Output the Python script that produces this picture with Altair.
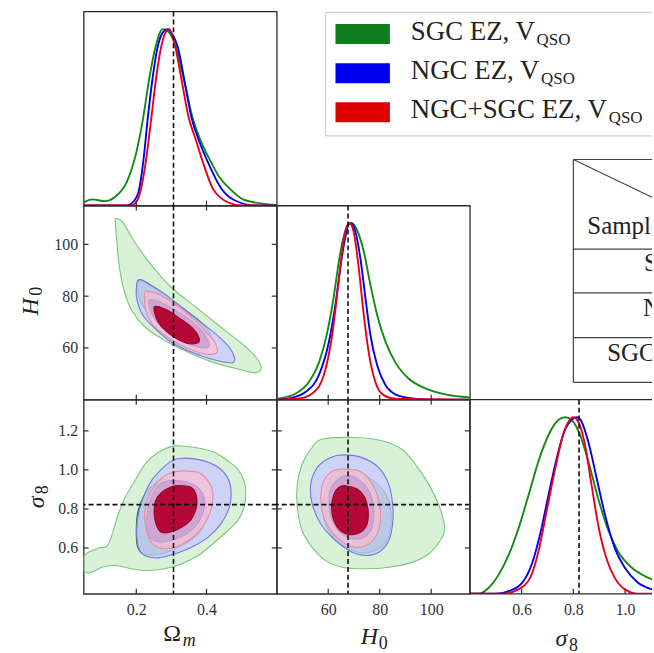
import altair as alt
import pandas as pd

SERIF = "Liberation Serif"
FRAME = "#2b2b2b"
W, H = 194, 195
W_LAST = 183          # last column is cut at the right edge of the figure
TICK = 5

# ---------------- parameter ranges, ticks and fiducial values ----------------
OM_DOMAIN = [0.05, 0.6]
H0_DOMAIN = [40, 115]
S8_DOMAIN_2D = [0.365, 1.36]
S8_DOMAIN_1D = [0.4, 1.104]
PDF_DOMAIN = [0, 1.1]

OM_TICKS = [0.2, 0.4]
H0_TICKS = [60, 80, 100]
S8_TICKS_2D = [0.6, 0.8, 1.0, 1.2]
S8_TICKS_1D = [0.6, 0.8, 1.0]

OM_FID = 0.306
H0_FID = 67.7
S8_FID = 0.822

SERIES = ["SGC", "NGC", "ALL"]
LINE_COLORS = {"SGC": "#128a12", "NGC": "#0000ee", "ALL": "#e8001a"}

# parameter symbols: (base, subscript, base italic?, subscript italic?)
SYM_OM = ("Ω", "m", False, True)
SYM_H0 = ("H", "0", True, False)
SYM_S8 = ("σ", "8", True, False)

# ---------------- marginal posteriors (normalised to peak = 1) ----------------
OM_SGC_X = [0.05, 0.075, 0.11, 0.14, 0.172, 0.2, 0.219, 0.237, 0.255, 0.275, 0.289, 0.313, 0.337, 0.36, 0.385, 0.412, 0.437, 0.464, 0.51, 0.6]
OM_SGC_P = [0.017, 0.035, 0.025, 0.05, 0.13, 0.30, 0.49, 0.72, 0.90, 1.0, 0.99, 0.90, 0.70, 0.50, 0.36, 0.25, 0.16, 0.10, 0.03, 0.003]
OM_NGC_X = [0.05, 0.17, 0.195, 0.209, 0.22, 0.233, 0.247, 0.261, 0.275, 0.289, 0.303, 0.318, 0.338, 0.357, 0.38, 0.403, 0.441, 0.48, 0.54, 0.6]
OM_NGC_P = [0.0, 0.0, 0.03, 0.10, 0.25, 0.50, 0.73, 0.90, 0.98, 1.0, 0.97, 0.90, 0.70, 0.50, 0.36, 0.25, 0.10, 0.03, 0.0, 0.0]
OM_ALL_X = [0.05, 0.185, 0.203, 0.214, 0.228, 0.243, 0.257, 0.271, 0.283, 0.294, 0.311, 0.33, 0.349, 0.37, 0.389, 0.417, 0.45, 0.50, 0.6]
OM_ALL_P = [0.0, 0.0, 0.03, 0.10, 0.26, 0.50, 0.73, 0.90, 0.98, 1.0, 0.90, 0.70, 0.50, 0.37, 0.25, 0.10, 0.03, 0.0, 0.0]

H0_SGC_X = [40.0, 40.9, 47.4, 52.5, 56.4, 59.6, 62.2, 64.1, 66.1, 68.0, 69.3, 71.2, 73.8, 76.4, 79.0, 82.2, 86.1, 91.2, 97.7, 105.4, 115.0]
H0_SGC_P = [0.005, 0.007, 0.035, 0.10, 0.21, 0.38, 0.59, 0.78, 0.93, 0.997, 1.0, 0.96, 0.84, 0.65, 0.48, 0.33, 0.21, 0.12, 0.064, 0.03, 0.013]
H0_NGC_X = [40.0, 44.8, 51.3, 56.4, 60.3, 62.9, 64.8, 66.5, 68.0, 68.9, 70.6, 72.5, 74.5, 76.4, 79.0, 82.2, 86.1, 91.2, 99.0, 115.0]
H0_NGC_P = [0.0, 0.007, 0.045, 0.14, 0.33, 0.55, 0.76, 0.91, 0.995, 1.0, 0.95, 0.80, 0.57, 0.365, 0.195, 0.083, 0.03, 0.01, 0.0, 0.0]
H0_ALL_X = [40.0, 48.7, 53.8, 58.3, 61.5, 63.9, 65.7, 67.3, 68.3, 69.9, 71.9, 73.8, 75.7, 78.3, 81.5, 86.1, 115.0]
H0_ALL_P = [0.0, 0.007, 0.035, 0.14, 0.365, 0.65, 0.87, 0.985, 1.0, 0.95, 0.74, 0.48, 0.27, 0.10, 0.026, 0.005, 0.0]

S8_SGC_X = [0.4, 0.435, 0.473, 0.512, 0.55, 0.588, 0.627, 0.665, 0.704, 0.742, 0.768, 0.793, 0.826, 0.858, 0.896, 0.935, 0.973, 1.024, 1.076, 1.15]
S8_SGC_P = [0.0, 0.0, 0.034, 0.11, 0.22, 0.37, 0.56, 0.75, 0.90, 0.985, 1.0, 0.985, 0.90, 0.75, 0.54, 0.36, 0.24, 0.15, 0.10, 0.06]
S8_NGC_X = [0.4, 0.499, 0.55, 0.601, 0.64, 0.672, 0.704, 0.736, 0.768, 0.793, 0.813, 0.832, 0.858, 0.89, 0.922, 0.96, 0.999, 1.05, 1.104, 1.15]
S8_NGC_P = [0.0, 0.0, 0.015, 0.06, 0.17, 0.34, 0.56, 0.77, 0.93, 0.985, 1.0, 0.975, 0.86, 0.655, 0.45, 0.26, 0.147, 0.062, 0.025, 0.01]
S8_ALL_X = [0.4, 0.524, 0.588, 0.633, 0.665, 0.697, 0.73, 0.762, 0.781, 0.8, 0.819, 0.845, 0.87, 0.896, 0.928, 0.96, 0.999, 1.05, 1.15]
S8_ALL_P = [0.0, 0.0, 0.025, 0.09, 0.24, 0.47, 0.71, 0.91, 0.975, 1.0, 0.975, 0.845, 0.62, 0.39, 0.20, 0.09, 0.025, 0.0, 0.0]

# ---------------- 68% / 95% credible contours (parameter pairs) ----------------
OMH0_SGC_95 = [(0.142, 110.0), (0.161, 108.7), (0.189, 102.3), (0.228, 94.6), (0.275, 86.9), (0.313, 81.8), (0.361, 76.7),
               (0.409, 71.5), (0.456, 66.4), (0.504, 61.3), (0.542, 56.2), (0.556, 52.3), (0.542, 50.4), (0.513, 51.0),
               (0.475, 52.3), (0.409, 54.9), (0.342, 58.7), (0.285, 62.6), (0.228, 67.7), (0.189, 74.1), (0.166, 81.8),
               (0.151, 92.1), (0.144, 102.3), (0.14, 108.7)]
OMH0_SGC_68 = [(0.205, 86.0), (0.225, 85.6), (0.26, 82.6), (0.30, 78.6), (0.34, 74.6), (0.38, 70.4), (0.405, 66.8),
               (0.41, 63.8), (0.39, 62.8), (0.35, 64.2), (0.30, 67.0), (0.26, 70.6), (0.225, 75.0), (0.206, 80.0)]
OMH0_NGC_95 = [(0.204, 85.7), (0.213, 86.3), (0.247, 83.7), (0.285, 80.5), (0.332, 75.4), (0.38, 70.3), (0.428, 65.2),
               (0.466, 60.0), (0.48, 56.2), (0.478, 54.6), (0.466, 54.2), (0.418, 55.5), (0.361, 58.1), (0.304, 61.9),
               (0.256, 67.1), (0.218, 72.8), (0.201, 79.2), (0.201, 84.4)]
OMH0_NGC_68 = [(0.238, 78.6), (0.275, 77.3), (0.332, 72.8), (0.379, 67.7), (0.403, 63.2), (0.408, 60.7), (0.389, 60.0),
               (0.342, 61.9), (0.294, 65.8), (0.257, 70.3), (0.24, 74.8)]
OMH0_ALL_95 = [(0.228, 81.8), (0.266, 80.5), (0.313, 76.7), (0.36, 71.5), (0.398, 66.4), (0.422, 62.6), (0.431, 58.7),
               (0.417, 57.5), (0.379, 58.1), (0.332, 60.7), (0.285, 64.5), (0.247, 69.0), (0.228, 74.1), (0.224, 79.2)]
OMH0_ALL_68 = [(0.252, 76.0), (0.285, 74.8), (0.323, 71.5), (0.36, 67.7), (0.379, 63.8), (0.374, 61.9), (0.342, 61.9),
               (0.304, 64.5), (0.271, 68.3), (0.255, 72.2)]

OMS8_SGC_95 = [(0.309, 1.123), (0.366, 1.115), (0.423, 1.089), (0.46, 1.047), (0.489, 1.004), (0.507, 0.944), (0.512, 0.876),
               (0.507, 0.808), (0.489, 0.74), (0.46, 0.688), (0.423, 0.629), (0.376, 0.561), (0.328, 0.518), (0.281, 0.493),
               (0.234, 0.484), (0.187, 0.493), (0.14, 0.51), (0.102, 0.501), (0.074, 0.475), (0.052, 0.48), (0.05, 0.55),
               (0.062, 0.576), (0.096, 0.601), (0.121, 0.62), (0.149, 0.774), (0.168, 0.859), (0.196, 0.944),
               (0.225, 1.03), (0.262, 1.089)]
OMS8_SGC_68 = [(0.27, 0.95), (0.33, 0.935), (0.38, 0.875), (0.40, 0.79), (0.39, 0.71), (0.36, 0.645), (0.31, 0.595),
               (0.26, 0.565), (0.22, 0.57), (0.203, 0.61), (0.2, 0.70), (0.205, 0.79), (0.225, 0.875)]
OMS8_NGC_95 = [(0.328, 1.06), (0.385, 1.05), (0.432, 1.015), (0.46, 0.961), (0.47, 0.893), (0.465, 0.808), (0.441, 0.723),
               (0.404, 0.654), (0.357, 0.603), (0.309, 0.569), (0.262, 0.549), (0.224, 0.561), (0.206, 0.603),
               (0.201, 0.688), (0.206, 0.774), (0.22, 0.859), (0.243, 0.944), (0.272, 1.004), (0.3, 1.045)]
OMS8_NGC_68 = [(0.30, 0.945), (0.35, 0.935), (0.385, 0.89), (0.395, 0.82), (0.38, 0.74), (0.35, 0.68), (0.31, 0.645),
               (0.27, 0.63), (0.24, 0.65), (0.23, 0.71), (0.232, 0.79), (0.245, 0.87), (0.265, 0.925)]
OMS8_ALL_95 = [(0.338, 0.995), (0.378, 0.985), (0.406, 0.94), (0.418, 0.876), (0.412, 0.791), (0.388, 0.705),
               (0.349, 0.637), (0.309, 0.603), (0.272, 0.598), (0.243, 0.627), (0.229, 0.688), (0.224, 0.774),
               (0.234, 0.859), (0.262, 0.94), (0.3, 0.985)]
OMS8_ALL_68 = [(0.328, 0.919), (0.357, 0.91), (0.371, 0.868), (0.371, 0.808), (0.357, 0.748), (0.328, 0.705),
               (0.295, 0.68), (0.272, 0.68), (0.258, 0.714), (0.251, 0.774), (0.255, 0.842), (0.272, 0.884), (0.3, 0.914)]

H0S8_SGC_95 = [(57.7, 1.158), (70.6, 1.166), (80.9, 1.149), (88.6, 1.106), (93.8, 1.03), (99.0, 0.927), (102.8, 0.825),
               (104.8, 0.74), (105.2, 0.688), (103.5, 0.637), (99.0, 0.569), (92.5, 0.526), (83.5, 0.501), (74.5, 0.493),
               (65.4, 0.501), (59.0, 0.535), (53.8, 0.603), (49.9, 0.688), (48.0, 0.808), (48.0, 0.927), (49.9, 1.03),
               (53.2, 1.106)]
H0S8_SGC_68 = [(63, 0.99), (71, 0.985), (78, 0.94), (83, 0.86), (84.5, 0.76), (83.5, 0.66), (80, 0.6), (74.5, 0.575),
               (69, 0.59), (63, 0.64), (59, 0.72), (58, 0.82), (59.5, 0.92)]
H0S8_NGC_95 = [(65.4, 1.077), (73.2, 1.063), (79.6, 1.012), (83.5, 0.927), (85.0, 0.825), (85.0, 0.723), (83.5, 0.637),
               (79.6, 0.578), (74.5, 0.561), (69.3, 0.578), (62.9, 0.637), (57.1, 0.723), (53.8, 0.825), (53.2, 0.927),
               (55.7, 1.012), (60.3, 1.06)]
H0S8_NGC_68 = [(66.7, 0.97), (72.5, 0.944), (76.4, 0.876), (77.7, 0.791), (77.0, 0.705), (73.8, 0.654), (69.9, 0.646),
               (65.4, 0.672), (61.5, 0.74), (60.3, 0.842), (61.5, 0.919)]
H0S8_ALL_95 = [(65.4, 1.004), (71.9, 0.995), (76.4, 0.944), (79.3, 0.859), (80.3, 0.757), (79.0, 0.672), (75.7, 0.62),
               (71.2, 0.603), (66.7, 0.62), (61.5, 0.68), (58.3, 0.757), (57.1, 0.859), (58.3, 0.944), (61.5, 0.992)]
H0S8_ALL_68 = [(66.7, 0.919), (71.2, 0.902), (74.2, 0.859), (75.5, 0.791), (75.1, 0.723), (72.5, 0.68), (68.7, 0.668),
               (64.8, 0.688), (62.2, 0.74), (61.3, 0.808), (62.2, 0.876), (64.1, 0.91)]

# ---------------- legend / table text ----------------
LEGEND_LABELS = ["SGC EZ, V", "NGC EZ, V", "NGC+SGC EZ, V"]
LEGEND_SUB = ["QSO", "QSO", "QSO"]
LEGEND_PATCH = ["#0e7d1c", "#0000f0", "#e00000"]
TABLE_HEADER = "Sample"
TABLE_ROWS = ["SGC", "NGC", "SGC+NGC"]

# fill colour, fill opacity, edge colour for each (sample, level)
FILL_STYLE = {
    ("SGC", 95): ("#9fdc98", 0.4, "#7cc67c"),
    ("SGC", 68): ("#2d8f35", 0.45, "#2a7a2a"),
    ("NGC", 95): ("#c8caff", 0.78, "#7478e6"),
    ("NGC", 68): ("#3a3ad8", 0.55, "#5a5ad6"),
    ("ALL", 95): ("#ffbccc", 0.65, "#e68ca4"),
    ("ALL", 68): ("#b2002d", 0.95, "#a00028"),
}


def sc(dom):
    return alt.Scale(domain=dom, nice=False, zero=False)


def x_axis(ticks, fmt):
    return alt.Axis(values=ticks, format=fmt, title=None, ticks=False, domain=False, grid=False,
                    labelFont=SERIF, labelFontSize=16, labelColor="#333", labelPadding=8)


def y_axis(ticks, fmt):
    return alt.Axis(values=ticks, format=fmt, title=None, ticks=False, domain=False, grid=False,
                    labelFont=SERIF, labelFontSize=16, labelColor="#333", labelPadding=6)


def one():
    return alt.Chart(pd.DataFrame({"v": [0]}))


def glyph(t, x, y, size, italic, angle=0):
    kw = dict(text=t, font=SERIF, fontSize=size, color="#222", align="left", baseline="alphabetic",
              fontStyle="italic" if italic else "normal")
    if angle:
        kw["angle"] = angle
    return one().mark_text(**kw).encode(x=alt.value(x), y=alt.value(y))


def x_title(sym, x, y, sub_dx):
    base, sub, bi, si = sym
    return [glyph(base, x, y, 24, bi), glyph(sub, x + sub_dx, y + 5, 18, si)]


def y_title(sym, x, y, sub_dy):
    # rotated so that it reads upwards; (x, y) is the start of the base glyph's baseline
    base, sub, bi, si = sym
    return [glyph(base, x, y, 24, bi, 270), glyph(sub, x + 4, y - sub_dy, 18, si, 270)]


def dash_v(val, xs, xa):
    return alt.Chart(pd.DataFrame({"x": [val]})).mark_rule(
        color="#111", strokeWidth=1.6, strokeDash=[5, 3]).encode(x=alt.X("x:Q", scale=xs, axis=xa))


def dash_h(val, ys, ya):
    return alt.Chart(pd.DataFrame({"y": [val]})).mark_rule(
        color="#111", strokeWidth=1.6, strokeDash=[5, 3]).encode(y=alt.Y("y:Q", scale=ys, axis=ya))


def x_ticks(ticks, xs, xa, edge):
    y0, y1 = (H, H - TICK) if edge == "bottom" else (0, TICK)
    return alt.Chart(pd.DataFrame({"x": ticks})).mark_rule(color=FRAME, strokeWidth=1.2).encode(
        x=alt.X("x:Q", scale=xs, axis=xa), y=alt.value(y0), y2=alt.value(y1))


def y_ticks(ticks, ys, ya, edge):
    x0, x1 = (0, TICK) if edge == "left" else (W, W - TICK)
    return alt.Chart(pd.DataFrame({"y": ticks})).mark_rule(color=FRAME, strokeWidth=1.2).encode(
        y=alt.Y("y:Q", scale=ys, axis=ya), x=alt.value(x0), x2=alt.value(x1))


def hline(y, x0, x1, width=1.3, color=FRAME):
    return one().mark_rule(color=color, strokeWidth=width).encode(
        x=alt.value(x0), x2=alt.value(x1), y=alt.value(y), y2=alt.value(y))


def vline(x, y0, y1, width=1.3, color=FRAME):
    return one().mark_rule(color=color, strokeWidth=width).encode(
        x=alt.value(x), x2=alt.value(x), y=alt.value(y0), y2=alt.value(y1))


def panel_1d(curves, dom, ticks, fid, xa, width=W, open_right=False, extra=()):
    xs, ys = sc(dom), sc(PDF_DOMAIN)
    layers = []
    for s in SERIES:
        xv, pv = curves[s]
        layers.append(alt.Chart(pd.DataFrame({"x": xv, "p": pv})).mark_line(
            color=LINE_COLORS[s], strokeWidth=1.9, interpolate="monotone", clip=True).encode(
            x=alt.X("x:Q", scale=xs, axis=xa), y=alt.Y("p:Q", scale=ys, axis=None)))
    layers.append(dash_v(fid, xs, xa))
    layers.append(x_ticks(ticks, xs, xa, "bottom"))
    props = dict(width=width, height=H)
    if open_right:
        # frame drawn on three sides only; the panel runs off the right edge
        layers += [hline(0, 0, width), hline(H, 0, width), vline(0, 0, H)]
        props["view"] = alt.ViewBackground(stroke="transparent")
    layers += list(extra)
    return alt.layer(*layers).properties(**props)


def panel_2d(contours, xdom, ydom, xt, yt, xa, ya, xfid, yfid, extra=()):
    xs, ys = sc(xdom), sc(ydom)
    layers = []
    for key, pts in contours:
        fill, op, edge = FILL_STYLE[key]
        df = pd.DataFrame({"x": [p[0] for p in pts], "y": [p[1] for p in pts], "i": list(range(len(pts)))})
        layers.append(alt.Chart(df).mark_line(
            interpolate="cardinal-closed", fill=fill, fillOpacity=op, stroke=edge, strokeWidth=1.1, clip=True
        ).encode(x=alt.X("x:Q", scale=xs, axis=xa), y=alt.Y("y:Q", scale=ys, axis=ya), order="i:Q"))
    layers.append(dash_v(xfid, xs, xa))
    if yfid is not None:
        layers.append(dash_h(yfid, ys, ya))
    layers += [x_ticks(xt, xs, xa, "bottom"), x_ticks(xt, xs, xa, "top"),
               y_ticks(yt, ys, ya, "left"), y_ticks(yt, ys, ya, "right")]
    layers += list(extra)
    return alt.layer(*layers).properties(width=W, height=H)


def blank(width=W):
    return one().mark_point(opacity=0, size=1).encode(x=alt.value(20), y=alt.value(20)).properties(
        width=width, height=H, view=alt.ViewBackground(stroke="transparent"))


def text(t, x, y, size, clip=False):
    kw = dict(text=t, font=SERIF, fontSize=size, color="#222", align="left", baseline="alphabetic")
    if clip:
        kw["clip"] = True
    return one().mark_text(**kw).encode(x=alt.value(x), y=alt.value(y))


# legend box in the cell of row 0 / column 1 (origin at that cell's top-left corner)
def legend_cell():
    right = 377  # right border of the figure, relative to this cell
    layers = [hline(1, 49, right, 1.2, "#d0d0d0"), hline(125, 49, right, 1.2, "#d0d0d0"),
              vline(49, 1, 125, 1.2, "#d0d0d0")]
    for i, (lab, sub, col) in enumerate(zip(LEGEND_LABELS, LEGEND_SUB, LEGEND_PATCH)):
        yc = 22.7 + 39.3 * i
        layers.append(one().mark_rect(color=col).encode(
            x=alt.value(59), x2=alt.value(113.7), y=alt.value(yc - 10), y2=alt.value(yc + 10)))
        layers.append(text(lab, 134.7, yc + 6, 27))
        sub_x = [261, 265.5, 333.5][i]
        layers.append(text(sub, sub_x, yc + 11, 17))
    return alt.layer(*layers).properties(width=W, height=H, view=alt.ViewBackground(stroke="transparent"))


# summary table in the cell of row 1 / column 2 (origin at that cell's top-left corner)
def table_cell():
    right = W_LAST
    layers = [hline(-46.3, 104, right, 1.2, "#444"), hline(43.7, 104, right, 1.2, "#444"),
              hline(87.7, 104, right, 1.2, "#444"), hline(132.7, 104, right, 1.2, "#444"),
              hline(177.7, 104, right, 1.2, "#444"), vline(104, -46.3, 177.7, 1.2, "#444"),
              one().mark_rule(color="#444", strokeWidth=1.1).encode(
                  x=alt.value(104), x2=alt.value(right), y=alt.value(-46.3), y2=alt.value(-8.3))]
    layers.append(text(TABLE_HEADER, 118, 28.7, 25, clip=True))
    for t, tx, ty in zip(TABLE_ROWS, [175, 174, 138], [65.7, 110.7, 155.7]):
        layers.append(text(t, tx, ty, 25, clip=True))
    return alt.layer(*layers).properties(width=W_LAST, height=H,
                                         view=alt.ViewBackground(stroke="transparent"))


om_1d = panel_1d({"SGC": (OM_SGC_X, OM_SGC_P), "NGC": (OM_NGC_X, OM_NGC_P), "ALL": (OM_ALL_X, OM_ALL_P)},
                 OM_DOMAIN, OM_TICKS, OM_FID, None)
h0_1d = panel_1d({"SGC": (H0_SGC_X, H0_SGC_P), "NGC": (H0_NGC_X, H0_NGC_P), "ALL": (H0_ALL_X, H0_ALL_P)},
                 H0_DOMAIN, H0_TICKS, H0_FID, None)
s8_1d = panel_1d({"SGC": (S8_SGC_X, S8_SGC_P), "NGC": (S8_NGC_X, S8_NGC_P), "ALL": (S8_ALL_X, S8_ALL_P)},
                 S8_DOMAIN_1D, S8_TICKS_1D, S8_FID, x_axis(S8_TICKS_1D, ".1f"),
                 width=W_LAST, open_right=True, extra=x_title(SYM_S8, 86, 247, 13.5))

om_h0 = panel_2d([(("SGC", 95), OMH0_SGC_95), (("SGC", 68), OMH0_SGC_68), (("NGC", 95), OMH0_NGC_95),
                  (("NGC", 68), OMH0_NGC_68), (("ALL", 95), OMH0_ALL_95), (("ALL", 68), OMH0_ALL_68)],
                 OM_DOMAIN, H0_DOMAIN, OM_TICKS, H0_TICKS, None, y_axis(H0_TICKS, "d"),
                 OM_FID, None, extra=y_title(SYM_H0, -46, 110.5, 20))
om_s8 = panel_2d([(("SGC", 95), OMS8_SGC_95), (("SGC", 68), OMS8_SGC_68), (("NGC", 95), OMS8_NGC_95),
                  (("NGC", 68), OMS8_NGC_68), (("ALL", 95), OMS8_ALL_95), (("ALL", 68), OMS8_ALL_68)],
                 OM_DOMAIN, S8_DOMAIN_2D, OM_TICKS, S8_TICKS_2D,
                 x_axis(OM_TICKS, ".1f"), y_axis(S8_TICKS_2D, ".1f"), OM_FID, S8_FID,
                 extra=x_title(SYM_OM, 80, 242, 19.5) + y_title(SYM_S8, -39.5, 109, 14))
h0_s8 = panel_2d([(("SGC", 95), H0S8_SGC_95), (("SGC", 68), H0S8_SGC_68), (("NGC", 95), H0S8_NGC_95),
                  (("NGC", 68), H0S8_NGC_68), (("ALL", 95), H0S8_ALL_95), (("ALL", 68), H0S8_ALL_68)],
                 H0_DOMAIN, S8_DOMAIN_2D, H0_TICKS, S8_TICKS_2D,
                 x_axis(H0_TICKS, "d"), None, H0_FID, S8_FID, extra=x_title(SYM_H0, 84.5, 245, 18))

chart = alt.concat(
    om_1d, legend_cell(), blank(W_LAST),
    om_h0, h0_1d, table_cell(),
    om_s8, h0_s8, s8_1d,
    columns=3, spacing=0, bounds="flush",
).properties(
    padding={"left": 18, "top": 8, "right": 0, "bottom": 0},
    background="white",
).configure_view(stroke=FRAME, strokeWidth=1.3)

chart.save("out.html", embed_options={"renderer": "svg", "actions": False})
